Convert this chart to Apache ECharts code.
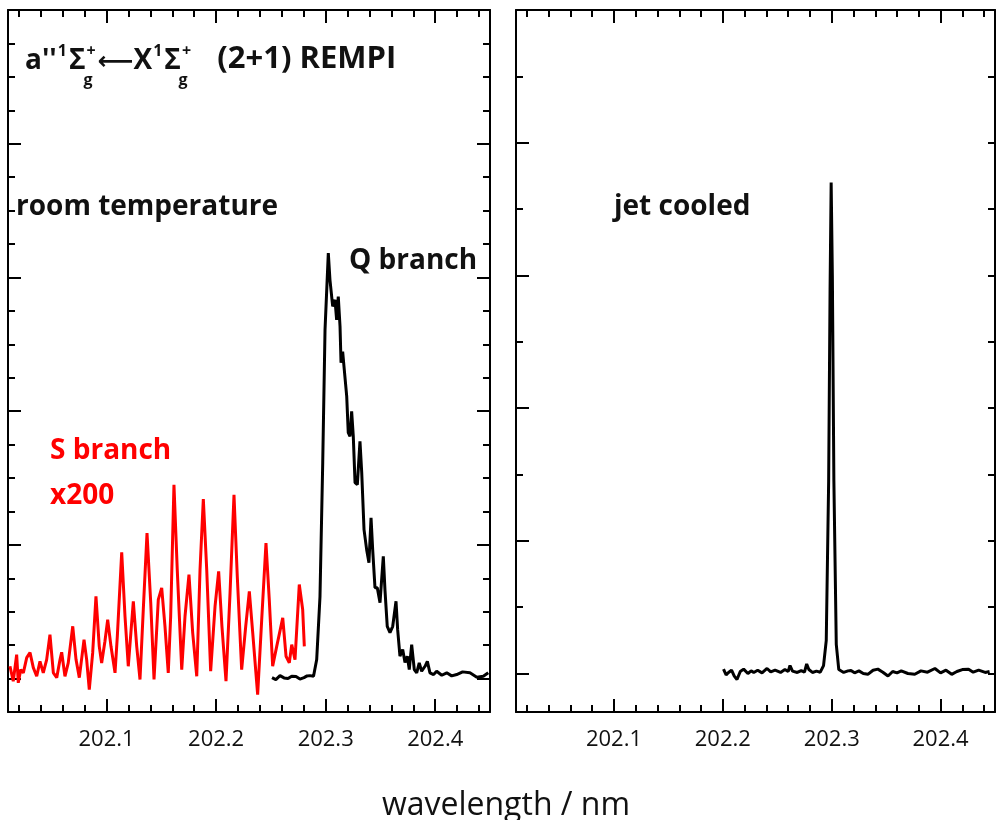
<!DOCTYPE html>
<html>
<head>
<meta charset="utf-8">
<script src="https://cdn.jsdelivr.net/npm/echarts@6/dist/echarts.min.js"></script>
<style>
html,body{margin:0;padding:0;background:#fff;}
#chart{width:998px;height:820px;}
</style>
</head>
<body>
<div id="chart"></div>
<script>
// ---------- data (wavelength in nm, intensity in arbitrary units) ----------
const sBranchWavelength = [202.0118,202.0148,202.0179,202.0194,202.0216,202.0240,202.0271,202.0301,202.0331,202.0362,202.0392,202.0422,202.0453,202.0483,202.0514,202.0545,202.0575,202.0590,202.0620,202.0650,202.0691,202.0721,202.0751,202.0794,202.0818,202.0842,202.0873,202.0903,202.0933,202.0955,202.0985,202.1010,202.1040,202.1077,202.1098,202.1138,202.1168,202.1198,202.1244,202.1275,202.1305,202.1335,202.1369,202.1403,202.1433,202.1472,202.1503,202.1533,202.1563,202.1585,202.1615,202.1645,202.1686,202.1716,202.1752,202.1786,202.1823,202.1853,202.1883,202.1914,202.1950,202.1990,202.2023,202.2053,202.2090,202.2127,202.2163,202.2193,202.2233,202.2270,202.2303,202.2334,202.2379,202.2416,202.2455,202.2485,202.2516,202.2553,202.2608,202.2638,202.2668,202.2690,202.2720,202.2759,202.2790,202.2805];
const sBranchIntensity = [0.092,-0.020,0.179,-0.032,0.067,0.043,0.157,0.194,0.082,0.017,0.129,0.043,0.142,0.329,0.043,0.007,0.142,0.197,0.017,0.117,0.391,0.142,0.007,0.291,0.142,-0.082,0.192,0.615,0.241,0.117,0.279,0.441,0.241,0.043,0.316,0.944,0.466,0.092,0.578,0.241,-0.007,0.516,1.089,0.566,-0.007,0.590,0.678,0.391,0.043,0.466,1.450,0.815,0.067,0.466,0.777,0.342,0.017,0.815,1.343,0.815,0.055,0.540,0.802,0.391,-0.020,0.641,1.375,0.765,0.067,0.391,0.652,0.342,-0.120,0.441,1.014,0.590,0.092,0.241,0.454,0.167,0.117,0.254,0.142,0.703,0.516,0.241];

const qBranchWavelength = [202.2510,202.2545,202.2583,202.2620,202.2656,202.2690,202.2729,202.2765,202.2802,202.2830,202.2857,202.2889,202.2918,202.2948,202.2973,202.2994,202.3024,202.3039,202.3064,202.3085,202.3100,202.3115,202.3131,202.3140,202.3155,202.3167,202.3192,202.3206,202.3222,202.3237,202.3252,202.3268,202.3289,202.3313,202.3329,202.3350,202.3374,202.3395,202.3414,202.3429,202.3450,202.3471,202.3496,202.3526,202.3541,202.3562,202.3587,202.3612,202.3642,202.3657,202.3678,202.3703,202.3724,202.3745,202.3763,202.3785,202.3809,202.3831,202.3854,202.3876,202.3907,202.3928,202.3952,202.3985,202.4013,202.4060,202.4105,202.4150,202.4196,202.4250,202.4317,202.4380,202.4439,202.4484];
const qBranchIntensity = [0.007,-0.008,0.022,0.005,0.000,0.018,0.015,-0.004,0.007,0.020,0.022,0.017,0.142,0.613,1.614,2.608,3.182,2.982,2.783,2.833,2.683,2.857,2.633,2.362,2.446,2.334,2.110,1.839,1.811,1.998,1.811,1.465,1.450,1.774,1.540,1.114,0.964,0.867,1.203,0.964,0.680,0.680,0.568,0.914,0.665,0.391,0.344,0.391,0.578,0.366,0.167,0.217,0.120,0.167,0.067,0.254,0.067,0.043,0.117,0.055,0.092,0.129,0.043,0.030,0.055,0.025,0.043,0.020,0.030,0.050,0.043,0.010,0.017,0.043];

const jetWavelength = [202.2006,202.2030,202.2052,202.2080,202.2105,202.2130,202.2160,202.2191,202.2230,202.2260,202.2284,202.2320,202.2360,202.2406,202.2440,202.2480,202.2530,202.2570,202.2600,202.2617,202.2640,202.2684,202.2720,202.2750,202.2770,202.2790,202.2823,202.2860,202.2895,202.2925,202.2950,202.2972,202.2985,202.2995,202.3006,202.3020,202.3042,202.3065,202.3110,202.3150,202.3177,202.3210,202.3250,202.3290,202.3332,202.3380,202.3424,202.3470,202.3517,202.3560,202.3600,202.3639,202.3700,202.3763,202.3820,202.3880,202.3948,202.4000,202.4050,202.4102,202.4150,202.4200,202.4257,202.4300,202.4350,202.4410,202.4450];
const jetIntensity = [0.033,-0.010,0.008,0.025,-0.020,-0.045,0.015,0.033,0.000,0.020,0.008,0.025,0.005,0.038,0.012,0.025,0.008,0.030,0.015,0.060,0.018,0.008,0.022,0.010,0.072,0.030,0.008,0.018,0.010,0.060,0.250,1.450,2.900,3.700,3.000,1.450,0.220,0.030,0.008,0.020,0.023,0.005,0.020,0.000,-0.006,0.025,0.033,0.010,-0.019,0.015,0.005,0.020,0.000,-0.006,0.020,0.010,0.038,0.005,0.025,-0.006,0.015,0.030,0.033,0.010,0.025,0.008,0.015];

// ---------- tick positions ----------
const xMajorTicks = [202.1, 202.2, 202.3, 202.4];
const xMinorTicks = [202.02,202.04,202.06,202.08,202.12,202.14,202.16,202.18,202.22,202.24,202.26,202.28,202.32,202.34,202.36,202.38,202.42,202.44];
const yMajorTicks = [0, 1, 2, 3, 4, 5];
const yMinorTicksLeftPanel = [0.25,0.5,0.75,1.25,1.5,1.75,2.25,2.5,2.75,3.25,3.5,3.75,4.25,4.5,4.75];
const yMinorTicksRightPanel = [0.5, 1.5, 2.5, 3.5, 4.5];

const X_MIN = 202.01, X_MAX = 202.45;
const LEFT_Y_MIN = -0.25, RIGHT_Y_MIN = -0.29, Y_MAX = 5;

const zip = (a, b) => a.map((v, i) => [v, b[i]]);

const axisLineOn = { show: true, onZero: false, lineStyle: { color: '#000', width: 2 } };
const axisLineOff = { show: false, onZero: false };
const tickFont = 'Open Sans';

function xAxes(gridIndex) {
  const base = { type: 'value', gridIndex, min: X_MIN, max: X_MAX, splitLine: { show: false } };
  return [
    Object.assign({}, base, { position: 'bottom', axisLine: axisLineOn,
      axisTick: { show: true, inside: true, length: 13, lineStyle: { color: '#000', width: 2 }, customValues: xMajorTicks },
      axisLabel: { show: true, customValues: xMajorTicks, margin: 17, fontSize: 22, color: '#111', fontFamily: tickFont,
        formatter: v => v.toFixed(1) } }),
    Object.assign({}, base, { position: 'bottom', axisLine: axisLineOff,
      axisTick: { show: true, inside: true, length: 7, lineStyle: { color: '#000', width: 2 }, customValues: xMinorTicks },
      axisLabel: { show: false } }),
    Object.assign({}, base, { position: 'top', axisLine: axisLineOn,
      axisTick: { show: true, inside: true, length: 13, lineStyle: { color: '#000', width: 2 }, customValues: xMajorTicks },
      axisLabel: { show: false } }),
    Object.assign({}, base, { position: 'top', axisLine: axisLineOff,
      axisTick: { show: true, inside: true, length: 7, lineStyle: { color: '#000', width: 2 }, customValues: xMinorTicks },
      axisLabel: { show: false } })
  ];
}

function yAxes(gridIndex, yMin, minorTicks, rightMajorLen) {
  const base = { type: 'value', gridIndex, min: yMin, max: Y_MAX, splitLine: { show: false }, axisLabel: { show: false } };
  return [
    Object.assign({}, base, { position: 'left', axisLine: axisLineOn,
      axisTick: { show: true, inside: true, length: 13, lineStyle: { color: '#000', width: 2 }, customValues: yMajorTicks } }),
    Object.assign({}, base, { position: 'left', axisLine: axisLineOff,
      axisTick: { show: true, inside: true, length: 7, lineStyle: { color: '#000', width: 2 }, customValues: minorTicks } }),
    Object.assign({}, base, { position: 'right', axisLine: axisLineOn,
      axisTick: { show: true, inside: true, length: rightMajorLen, lineStyle: { color: '#000', width: 2 }, customValues: yMajorTicks } }),
    Object.assign({}, base, { position: 'right', axisLine: axisLineOff,
      axisTick: { show: true, inside: true, length: 7, lineStyle: { color: '#000', width: 2 }, customValues: minorTicks } })
  ];
}

const labelFont = 'Open Sans';
const bold = { fontFamily: labelFont, fontWeight: 'bold', fontSize: 28, fill: '#111' };
const small = { fontFamily: labelFont, fontWeight: 'bold', fontSize: 16, fill: '#111' };

const chart = echarts.init(document.getElementById('chart'), null, { renderer: 'canvas' });
chart.setOption({
  animation: false,
  backgroundColor: '#fff',
  grid: [
    { left: 8, top: 10, width: 482, height: 702, containLabel: false },
    { left: 516, top: 10, width: 479, height: 702, containLabel: false }
  ],
  xAxis: xAxes(0).concat(xAxes(1)),
  yAxis: yAxes(0, LEFT_Y_MIN, yMinorTicksLeftPanel, 13).concat(yAxes(1, RIGHT_Y_MIN, yMinorTicksRightPanel, 7)),
  series: [
    { type: 'line', name: 'S branch x200', xAxisIndex: 0, yAxisIndex: 0, data: zip(sBranchWavelength, sBranchIntensity),
      showSymbol: false, lineStyle: { color: '#ff0000', width: 3 }, z: 3 },
    { type: 'line', name: 'Q branch', xAxisIndex: 0, yAxisIndex: 0, data: zip(qBranchWavelength, qBranchIntensity),
      showSymbol: false, lineStyle: { color: '#000', width: 3 }, z: 2 },
    { type: 'line', name: 'jet cooled', xAxisIndex: 4, yAxisIndex: 4, data: zip(jetWavelength, jetIntensity),
      showSymbol: false, lineStyle: { color: '#000', width: 3 }, z: 2 }
  ],
  graphic: [
    { type: 'text', x: 25, y: 75, style: {
        text: "{b|a''}{p|1}{b|Σ}{p|+}{ar|⟵}{b|X}{p|1}{b|Σ}{p|+}{r|   (2+1) REMPI}",
        textVerticalAlign: 'bottom',
        rich: {
          b: Object.assign({}, bold, { lineHeight: 32, verticalAlign: 'bottom' }),
          r: Object.assign({}, bold, { fontSize: 31, lineHeight: 32, verticalAlign: 'bottom' }),
          p: Object.assign({}, small, { lineHeight: 16, verticalAlign: 'top', padding: [0, 2, 31, 1] }),
          ar: { fontFamily: 'DejaVu Sans', fontWeight: 'bold', fontSize: 25, fill: '#111', lineHeight: 32, verticalAlign: 'bottom' }
        } } },
    { type: 'text', x: 88, y: 80, style: Object.assign({}, small, { text: 'g', textAlign: 'center', textVerticalAlign: 'middle' }) },
    { type: 'text', x: 183, y: 80, style: Object.assign({}, small, { text: 'g', textAlign: 'center', textVerticalAlign: 'middle' }) },
    { type: 'text', x: 16, y: 207, style: Object.assign({}, bold, { text: 'room temperature', textVerticalAlign: 'middle' }) },
    { type: 'text', x: 349, y: 261, style: Object.assign({}, bold, { text: 'Q branch', textVerticalAlign: 'middle' }) },
    { type: 'text', x: 50, y: 451, style: Object.assign({}, bold, { text: 'S branch', textVerticalAlign: 'middle', fill: '#ff0000' }) },
    { type: 'text', x: 50, y: 496, style: Object.assign({}, bold, { text: 'x200', textVerticalAlign: 'middle', fill: '#ff0000' }) },
    { type: 'text', x: 614, y: 207, style: Object.assign({}, bold, { text: 'jet cooled', textVerticalAlign: 'middle' }) },
    { type: 'text', x: 506, y: 806, style: { text: 'wavelength / nm', fontFamily: tickFont, fontSize: 32, fill: '#111', textAlign: 'center', textVerticalAlign: 'middle' } }
  ]
});
</script>
</body>
</html>
